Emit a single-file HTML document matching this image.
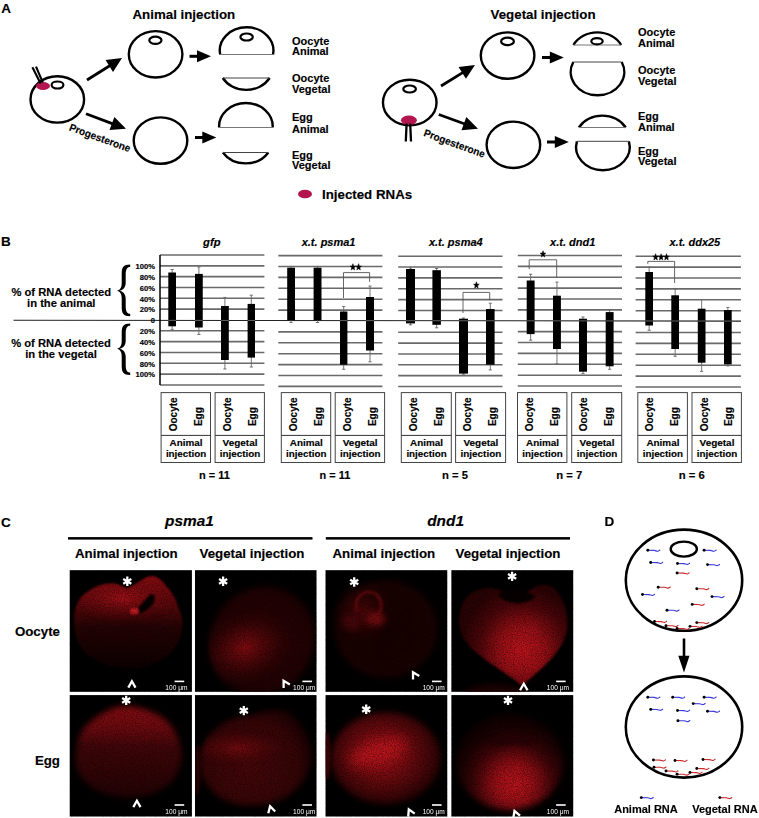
<!DOCTYPE html><html><head><meta charset="utf-8"><style>html,body{margin:0;padding:0;background:#fff;}svg{display:block;}</style></head><body>
<svg width="759" height="818" viewBox="0 0 759 818" font-family='"Liberation Sans", sans-serif'>
<rect width="759" height="818" fill="#fff"/>
<defs>
<filter id="bl3" color-interpolation-filters="sRGB" filterUnits="userSpaceOnUse" x="0" y="480" width="759" height="338"><feGaussianBlur color-interpolation-filters="sRGB" stdDeviation="3"/></filter>
<filter id="bl6" color-interpolation-filters="sRGB" filterUnits="userSpaceOnUse" x="0" y="480" width="759" height="338"><feGaussianBlur color-interpolation-filters="sRGB" stdDeviation="6"/></filter>
<filter id="bl10" color-interpolation-filters="sRGB" filterUnits="userSpaceOnUse" x="0" y="480" width="759" height="338"><feGaussianBlur color-interpolation-filters="sRGB" stdDeviation="10"/></filter>
<filter id="bl1" color-interpolation-filters="sRGB" filterUnits="userSpaceOnUse" x="0" y="480" width="759" height="338"><feGaussianBlur color-interpolation-filters="sRGB" stdDeviation="1.2"/></filter>
<filter id="spk" x="0" y="0" width="100%" height="100%" color-interpolation-filters="sRGB"><feTurbulence type="fractalNoise" baseFrequency="1.1" numOctaves="1" seed="7" result="n"/><feColorMatrix in="n" type="matrix" values="0 0 0 0 0  0 0 0 0 0  0 0 0 0 0  0 0 0 -2.2 1.35" result="a"/><feComposite in="SourceGraphic" in2="a" operator="in"/></filter>
<clipPath id="cp0"><rect x="69.75" y="570.2" width="122.15" height="121.6"/></clipPath>
<clipPath id="cp1"><rect x="195.0" y="570.2" width="121.5" height="121.6"/></clipPath>
<clipPath id="cp2"><rect x="325.55" y="570.2" width="121.7" height="121.6"/></clipPath>
<clipPath id="cp3"><rect x="451.4" y="570.2" width="121.8" height="121.6"/></clipPath>
<clipPath id="cp4"><rect x="69.75" y="695.1" width="122.15" height="121.4"/></clipPath>
<clipPath id="cp5"><rect x="195.0" y="695.1" width="121.5" height="121.4"/></clipPath>
<clipPath id="cp6"><rect x="325.55" y="695.1" width="121.7" height="121.4"/></clipPath>
<clipPath id="cp7"><rect x="451.4" y="695.1" width="121.8" height="121.4"/></clipPath>
</defs>
<text x="1.20" y="12.90" font-size="13.5" font-weight="bold"  text-anchor="start" fill="#000" stroke="#000" stroke-width="0.15" >A</text>
<text x="132.50" y="18.80" font-size="13.3" font-weight="bold"  text-anchor="start" fill="#000" stroke="#000" stroke-width="0.15" >Animal injection</text>
<text x="490.60" y="19.00" font-size="13.3" font-weight="bold"  text-anchor="start" fill="#000" stroke="#000" stroke-width="0.15" >Vegetal injection</text>
<ellipse cx="57.3" cy="99.4" rx="26.8" ry="23.2" fill="none" stroke="#000" stroke-width="2.4"/>
<ellipse cx="43" cy="86" rx="7" ry="4" fill="#b3164f"/>
<ellipse cx="57.5" cy="85" rx="5.90" ry="3.50" fill="#fff" stroke="#000" stroke-width="2.2"/>
<line x1="32.4" y1="67.2" x2="40.6" y2="83.5" stroke="#000" stroke-width="2.1"/>
<line x1="36.0" y1="66.6" x2="42.8" y2="82.5" stroke="#000" stroke-width="2.1"/>
<line x1="87" y1="80" x2="110.15" y2="65.45" stroke="#000" stroke-width="2.8"/>
<path d="M122,58 L113.03,71.91 L105.58,60.06 Z" fill="#000"/>
<line x1="86" y1="113.8" x2="112.89" y2="123.88" stroke="#000" stroke-width="2.8"/>
<path d="M126,128.8 L109.50,130.09 L114.41,116.98 Z" fill="#000"/>
<ellipse cx="155.6" cy="54.3" rx="26.8" ry="23.2" fill="none" stroke="#000" stroke-width="2.4"/>
<ellipse cx="155.4" cy="40.3" rx="6.10" ry="3.60" fill="#fff" stroke="#000" stroke-width="2.2"/>
<ellipse cx="160.5" cy="140.6" rx="26.8" ry="23.2" fill="none" stroke="#000" stroke-width="2.4"/>
<line x1="189.5" y1="56.3" x2="198.00" y2="56.30" stroke="#000" stroke-width="3"/>
<path d="M211,56.3 L197.00,62.30 L197.00,50.30 Z" fill="#000"/>
<line x1="195" y1="137.5" x2="203.30" y2="137.50" stroke="#000" stroke-width="3"/>
<path d="M216.3,137.5 L202.30,143.50 L202.30,131.50 Z" fill="#000"/>
<path d="M220.20,54.50 A26.8,23.2 0 1 1 273.00,54.50" fill="none" stroke="#000" stroke-width="2.4"/>
<line x1="220.20" y1="54.50" x2="273.00" y2="54.50" stroke="#777" stroke-width="1"/>
<ellipse cx="246.6" cy="37" rx="6.20" ry="3.50" fill="#fff" stroke="#000" stroke-width="2.2"/>
<path d="M269.61,78.00 A26.8,23.2 0 0 1 222.79,78.00" fill="none" stroke="#000" stroke-width="2.4"/>
<line x1="222.79" y1="78.00" x2="269.61" y2="78.00" stroke="#444" stroke-width="1"/>
<path d="M219.14,127.50 A26.8,23.2 0 1 1 272.66,127.50" fill="none" stroke="#000" stroke-width="2.4"/>
<line x1="219.14" y1="127.50" x2="272.66" y2="127.50" stroke="#777" stroke-width="1"/>
<path d="M268.32,152.50 A26.8,23.2 0 0 1 222.88,152.50" fill="none" stroke="#000" stroke-width="2.4"/>
<line x1="222.88" y1="152.50" x2="268.32" y2="152.50" stroke="#444" stroke-width="1"/>
<text x="0" y="0" font-size="10.4" font-weight="bold" stroke="#000" stroke-width="0.15" textLength="64.5" lengthAdjust="spacingAndGlyphs" transform="translate(68.4,130.2) rotate(20)">Progesterone</text>
<text x="292.00" y="44.90" font-size="11" font-weight="bold"  text-anchor="start" fill="#000" stroke="#000" stroke-width="0.15" >Oocyte</text>
<text x="292.00" y="55.40" font-size="11" font-weight="bold"  text-anchor="start" fill="#000" stroke="#000" stroke-width="0.15" >Animal</text>
<text x="292.00" y="82.40" font-size="11" font-weight="bold"  text-anchor="start" fill="#000" stroke="#000" stroke-width="0.15" >Oocyte</text>
<text x="292.00" y="92.90" font-size="11" font-weight="bold"  text-anchor="start" fill="#000" stroke="#000" stroke-width="0.15" >Vegetal</text>
<text x="292.00" y="121.30" font-size="11" font-weight="bold"  text-anchor="start" fill="#000" stroke="#000" stroke-width="0.15" >Egg</text>
<text x="292.00" y="132.50" font-size="11" font-weight="bold"  text-anchor="start" fill="#000" stroke="#000" stroke-width="0.15" >Animal</text>
<text x="292.00" y="158.70" font-size="11" font-weight="bold"  text-anchor="start" fill="#000" stroke="#000" stroke-width="0.15" >Egg</text>
<text x="292.00" y="169.00" font-size="11" font-weight="bold"  text-anchor="start" fill="#000" stroke="#000" stroke-width="0.15" >Vegetal</text>
<ellipse cx="305" cy="194" rx="7" ry="4.3" fill="#b3164f"/>
<text x="322.00" y="198.50" font-size="13.3" font-weight="bold"  text-anchor="start" fill="#000" stroke="#000" stroke-width="0.15" >Injected RNAs</text>
<ellipse cx="409.75" cy="102.5" rx="26.8" ry="22.8" fill="none" stroke="#000" stroke-width="2.4"/>
<ellipse cx="409.6" cy="89" rx="6.30" ry="3.50" fill="#fff" stroke="#000" stroke-width="2.2"/>
<ellipse cx="408.9" cy="120.3" rx="8" ry="4.8" fill="#b3164f"/>
<path d="M406.6,123.5 L405.8,141.5 M410.2,123.5 L411.0,141.5" stroke="#000" stroke-width="2.3" fill="none"/>
<line x1="441" y1="86" x2="463.09" y2="72.36" stroke="#000" stroke-width="2.8"/>
<path d="M475,65 L465.92,78.84 L458.56,66.93 Z" fill="#000"/>
<line x1="438.8" y1="114.5" x2="464.85" y2="124.00" stroke="#000" stroke-width="2.8"/>
<path d="M478,128.8 L461.51,130.24 L466.31,117.08 Z" fill="#000"/>
<ellipse cx="507.6" cy="55.6" rx="26.8" ry="23.2" fill="none" stroke="#000" stroke-width="2.4"/>
<ellipse cx="507.5" cy="41.4" rx="6.40" ry="3.70" fill="#fff" stroke="#000" stroke-width="2.2"/>
<ellipse cx="513.4" cy="144.8" rx="26.8" ry="23.2" fill="none" stroke="#000" stroke-width="2.4"/>
<line x1="542" y1="57.5" x2="550.80" y2="57.50" stroke="#000" stroke-width="3"/>
<path d="M563.8,57.5 L549.80,63.50 L549.80,51.50 Z" fill="#000"/>
<line x1="547" y1="142" x2="555.80" y2="142.00" stroke="#000" stroke-width="3"/>
<path d="M568.8,142 L554.80,148.00 L554.80,136.00 Z" fill="#000"/>
<path d="M573.46,45.00 A26.8,23.2 0 0 1 621.14,45.00" fill="none" stroke="#000" stroke-width="2.4"/>
<line x1="573.46" y1="45.00" x2="621.14" y2="45.00" stroke="#777" stroke-width="1"/>
<ellipse cx="597" cy="41.2" rx="5.70" ry="3.10" fill="#fff" stroke="#000" stroke-width="2.2"/>
<path d="M621.68,62.00 A26.8,23.2 0 1 1 573.32,62.00" fill="none" stroke="#000" stroke-width="2.4"/>
<line x1="573.32" y1="62.00" x2="621.68" y2="62.00" stroke="#444" stroke-width="1"/>
<path d="M578.89,127.50 A26.8,23.2 0 0 1 625.71,127.50" fill="none" stroke="#000" stroke-width="2.4"/>
<line x1="578.89" y1="127.50" x2="625.71" y2="127.50" stroke="#777" stroke-width="1"/>
<path d="M628.88,141.30 A26.8,23.2 0 1 1 576.92,141.30" fill="none" stroke="#000" stroke-width="2.4"/>
<line x1="576.92" y1="141.30" x2="628.88" y2="141.30" stroke="#444" stroke-width="1"/>
<text x="0" y="0" font-size="10.4" font-weight="bold" stroke="#000" stroke-width="0.15" textLength="64.5" lengthAdjust="spacingAndGlyphs" transform="translate(422.9,135.8) rotate(20)">Progesterone</text>
<text x="638.00" y="35.80" font-size="11" font-weight="bold"  text-anchor="start" fill="#000" stroke="#000" stroke-width="0.15" >Oocyte</text>
<text x="638.00" y="46.80" font-size="11" font-weight="bold"  text-anchor="start" fill="#000" stroke="#000" stroke-width="0.15" >Animal</text>
<text x="638.00" y="73.80" font-size="11" font-weight="bold"  text-anchor="start" fill="#000" stroke="#000" stroke-width="0.15" >Oocyte</text>
<text x="638.00" y="85.00" font-size="11" font-weight="bold"  text-anchor="start" fill="#000" stroke="#000" stroke-width="0.15" >Vegetal</text>
<text x="638.00" y="120.00" font-size="11" font-weight="bold"  text-anchor="start" fill="#000" stroke="#000" stroke-width="0.15" >Egg</text>
<text x="638.00" y="130.80" font-size="11" font-weight="bold"  text-anchor="start" fill="#000" stroke="#000" stroke-width="0.15" >Animal</text>
<text x="638.00" y="154.50" font-size="11" font-weight="bold"  text-anchor="start" fill="#000" stroke="#000" stroke-width="0.15" >Egg</text>
<text x="638.00" y="164.50" font-size="11" font-weight="bold"  text-anchor="start" fill="#000" stroke="#000" stroke-width="0.15" >Vegetal</text>
<text x="0.90" y="246.20" font-size="13.5" font-weight="bold"  text-anchor="start" fill="#000" stroke="#000" stroke-width="0.15" >B</text>
<line x1="13.5" y1="320.2" x2="741" y2="321.1" stroke="#222" stroke-width="1.1"/>
<line x1="160" y1="255.00" x2="264.4" y2="255.00" stroke="#6a6a6a" stroke-width="1.6"/>
<line x1="160" y1="265.83" x2="264.4" y2="265.83" stroke="#6a6a6a" stroke-width="1.6"/>
<line x1="160" y1="276.66" x2="264.4" y2="276.66" stroke="#6a6a6a" stroke-width="1.6"/>
<line x1="160" y1="287.49" x2="264.4" y2="287.49" stroke="#6a6a6a" stroke-width="1.6"/>
<line x1="160" y1="298.32" x2="264.4" y2="298.32" stroke="#6a6a6a" stroke-width="1.6"/>
<line x1="160" y1="309.15" x2="264.4" y2="309.15" stroke="#6a6a6a" stroke-width="1.6"/>
<line x1="160" y1="330.81" x2="264.4" y2="330.81" stroke="#6a6a6a" stroke-width="1.6"/>
<line x1="160" y1="341.64" x2="264.4" y2="341.64" stroke="#6a6a6a" stroke-width="1.6"/>
<line x1="160" y1="352.47" x2="264.4" y2="352.47" stroke="#6a6a6a" stroke-width="1.6"/>
<line x1="160" y1="363.30" x2="264.4" y2="363.30" stroke="#6a6a6a" stroke-width="1.6"/>
<line x1="160" y1="374.13" x2="264.4" y2="374.13" stroke="#6a6a6a" stroke-width="1.6"/>
<line x1="160" y1="384.96" x2="264.4" y2="384.96" stroke="#6a6a6a" stroke-width="1.6"/>
<text x="203.10" y="245.60" font-size="11.2" font-weight="bold" font-style="italic" text-anchor="start" fill="#000" stroke="#000" stroke-width="0.15" >gfp</text>
<line x1="172.15" y1="269.5" x2="172.15" y2="329.7" stroke="#666" stroke-width="0.9"/>
<line x1="170.55" y1="269.5" x2="173.75" y2="269.5" stroke="#666" stroke-width="0.9"/>
<line x1="170.55" y1="329.7" x2="173.75" y2="329.7" stroke="#666" stroke-width="0.9"/>
<rect x="168.3" y="272.5" width="7.70" height="53.80" fill="#000"/>
<line x1="168.3" y1="320.39" x2="176" y2="320.39" stroke="#6a6a6a" stroke-width="0.9"/>
<line x1="198.88" y1="267" x2="198.88" y2="334.5" stroke="#666" stroke-width="0.9"/>
<line x1="197.28" y1="267" x2="200.47" y2="267" stroke="#666" stroke-width="0.9"/>
<line x1="197.28" y1="334.5" x2="200.47" y2="334.5" stroke="#666" stroke-width="0.9"/>
<rect x="195" y="273.9" width="7.75" height="53.60" fill="#000"/>
<line x1="195" y1="320.42" x2="202.75" y2="320.42" stroke="#6a6a6a" stroke-width="0.9"/>
<line x1="224.90" y1="297.4" x2="224.90" y2="369" stroke="#666" stroke-width="0.9"/>
<line x1="223.30" y1="297.4" x2="226.50" y2="297.4" stroke="#666" stroke-width="0.9"/>
<line x1="223.30" y1="369" x2="226.50" y2="369" stroke="#666" stroke-width="0.9"/>
<rect x="221" y="306" width="7.80" height="54.00" fill="#000"/>
<line x1="221" y1="320.46" x2="228.8" y2="320.46" stroke="#6a6a6a" stroke-width="0.9"/>
<line x1="251.30" y1="295.2" x2="251.30" y2="367" stroke="#666" stroke-width="0.9"/>
<line x1="249.70" y1="295.2" x2="252.90" y2="295.2" stroke="#666" stroke-width="0.9"/>
<line x1="249.70" y1="367" x2="252.90" y2="367" stroke="#666" stroke-width="0.9"/>
<rect x="247.6" y="303.9" width="7.40" height="53.70" fill="#000"/>
<line x1="247.6" y1="320.49" x2="255" y2="320.49" stroke="#6a6a6a" stroke-width="0.9"/>
<rect x="161.1" y="392.6" width="49.40" height="69.9" fill="none" stroke="#444" stroke-width="1"/>
<line x1="161.1" y1="435.4" x2="210.5" y2="435.4" stroke="#333" stroke-width="1"/>
<text x="176.70" y="414.30" font-size="10" font-weight="bold"  text-anchor="middle" fill="#000" stroke="#000" stroke-width="0.15" transform="rotate(-90 176.70 414.3)">Oocyte</text>
<text x="201.60" y="416.60" font-size="10" font-weight="bold"  text-anchor="middle" fill="#000" stroke="#000" stroke-width="0.15" transform="rotate(-90 201.60 416.6)">Egg</text>
<rect x="215.1" y="392.6" width="49.30" height="69.9" fill="none" stroke="#444" stroke-width="1"/>
<line x1="215.1" y1="435.4" x2="264.4" y2="435.4" stroke="#333" stroke-width="1"/>
<text x="230.70" y="414.30" font-size="10" font-weight="bold"  text-anchor="middle" fill="#000" stroke="#000" stroke-width="0.15" transform="rotate(-90 230.70 414.3)">Oocyte</text>
<text x="255.60" y="416.60" font-size="10" font-weight="bold"  text-anchor="middle" fill="#000" stroke="#000" stroke-width="0.15" transform="rotate(-90 255.60 416.6)">Egg</text>
<text x="186.10" y="446.40" font-size="9.4" font-weight="bold"  text-anchor="middle" fill="#000" stroke="#000" stroke-width="0.15" textLength="33" lengthAdjust="spacingAndGlyphs">Animal</text>
<text x="186.10" y="456.90" font-size="9.4" font-weight="bold"  text-anchor="middle" fill="#000" stroke="#000" stroke-width="0.15" textLength="40.4" lengthAdjust="spacingAndGlyphs">injection</text>
<text x="240.05" y="446.40" font-size="9.4" font-weight="bold"  text-anchor="middle" fill="#000" stroke="#000" stroke-width="0.15" textLength="34.9" lengthAdjust="spacingAndGlyphs">Vegetal</text>
<text x="240.05" y="456.90" font-size="9.4" font-weight="bold"  text-anchor="middle" fill="#000" stroke="#000" stroke-width="0.15" textLength="40.6" lengthAdjust="spacingAndGlyphs">injection</text>
<text x="199.00" y="478.50" font-size="11" font-weight="bold"  text-anchor="start" fill="#000" stroke="#000" stroke-width="0.15" textLength="30.9" lengthAdjust="spacingAndGlyphs">n = 11</text>
<line x1="278.3" y1="255.60" x2="382.4" y2="255.60" stroke="#6a6a6a" stroke-width="1.6"/>
<line x1="278.3" y1="266.50" x2="382.4" y2="266.50" stroke="#6a6a6a" stroke-width="1.6"/>
<line x1="278.3" y1="277.40" x2="382.4" y2="277.40" stroke="#6a6a6a" stroke-width="1.6"/>
<line x1="278.3" y1="288.30" x2="382.4" y2="288.30" stroke="#6a6a6a" stroke-width="1.6"/>
<line x1="278.3" y1="299.20" x2="382.4" y2="299.20" stroke="#6a6a6a" stroke-width="1.6"/>
<line x1="278.3" y1="310.10" x2="382.4" y2="310.10" stroke="#6a6a6a" stroke-width="1.6"/>
<line x1="278.3" y1="331.90" x2="382.4" y2="331.90" stroke="#6a6a6a" stroke-width="1.6"/>
<line x1="278.3" y1="342.80" x2="382.4" y2="342.80" stroke="#6a6a6a" stroke-width="1.6"/>
<line x1="278.3" y1="353.70" x2="382.4" y2="353.70" stroke="#6a6a6a" stroke-width="1.6"/>
<line x1="278.3" y1="364.60" x2="382.4" y2="364.60" stroke="#6a6a6a" stroke-width="1.6"/>
<line x1="278.3" y1="375.50" x2="382.4" y2="375.50" stroke="#6a6a6a" stroke-width="1.6"/>
<line x1="278.3" y1="386.40" x2="382.4" y2="386.40" stroke="#6a6a6a" stroke-width="1.6"/>
<text x="301.70" y="245.60" font-size="11" font-weight="bold" font-style="italic" text-anchor="start" fill="#000" stroke="#000" stroke-width="0.15" >x.t. psma1</text>
<line x1="291.10" y1="266.5" x2="291.10" y2="322.5" stroke="#666" stroke-width="0.9"/>
<line x1="289.50" y1="266.5" x2="292.70" y2="266.5" stroke="#666" stroke-width="0.9"/>
<line x1="289.50" y1="322.5" x2="292.70" y2="322.5" stroke="#666" stroke-width="0.9"/>
<rect x="287.2" y="267.7" width="7.80" height="52.60" fill="#000"/>
<line x1="317.55" y1="266.5" x2="317.55" y2="322.5" stroke="#666" stroke-width="0.9"/>
<line x1="315.95" y1="266.5" x2="319.15" y2="266.5" stroke="#666" stroke-width="0.9"/>
<line x1="315.95" y1="322.5" x2="319.15" y2="322.5" stroke="#666" stroke-width="0.9"/>
<rect x="313.6" y="267.7" width="7.90" height="52.60" fill="#000"/>
<line x1="343.70" y1="306.6" x2="343.70" y2="369.3" stroke="#666" stroke-width="0.9"/>
<line x1="342.10" y1="306.6" x2="345.30" y2="306.6" stroke="#666" stroke-width="0.9"/>
<line x1="342.10" y1="369.3" x2="345.30" y2="369.3" stroke="#666" stroke-width="0.9"/>
<rect x="340" y="311.5" width="7.40" height="53.20" fill="#000"/>
<line x1="340" y1="320.60" x2="347.4" y2="320.60" stroke="#6a6a6a" stroke-width="0.9"/>
<line x1="370.00" y1="286" x2="370.00" y2="361.8" stroke="#666" stroke-width="0.9"/>
<line x1="368.40" y1="286" x2="371.60" y2="286" stroke="#666" stroke-width="0.9"/>
<line x1="368.40" y1="361.8" x2="371.60" y2="361.8" stroke="#666" stroke-width="0.9"/>
<rect x="366" y="297" width="8.00" height="53.50" fill="#000"/>
<line x1="366" y1="320.64" x2="374" y2="320.64" stroke="#6a6a6a" stroke-width="0.9"/>
<path d="M343.5,298 L343.5,272.6 L369.6,272.6 L369.6,281.9" fill="none" stroke="#555" stroke-width="0.9"/>
<polygon points="352.90,263.70 353.65,265.99 355.73,266.12 354.11,267.66 354.65,270.03 352.90,268.70 351.15,270.03 351.69,267.66 350.07,266.12 352.15,265.99" fill="#000" stroke="#000" stroke-width="0.5" stroke-linejoin="round"/>
<polygon points="358.60,263.70 359.35,265.99 361.43,266.12 359.81,267.66 360.35,270.03 358.60,268.70 356.85,270.03 357.39,267.66 355.77,266.12 357.85,265.99" fill="#000" stroke="#000" stroke-width="0.5" stroke-linejoin="round"/>
<rect x="281.3" y="392.6" width="49.40" height="69.9" fill="none" stroke="#444" stroke-width="1"/>
<line x1="281.3" y1="435.4" x2="330.7" y2="435.4" stroke="#333" stroke-width="1"/>
<text x="296.90" y="414.30" font-size="10" font-weight="bold"  text-anchor="middle" fill="#000" stroke="#000" stroke-width="0.15" transform="rotate(-90 296.90 414.3)">Oocyte</text>
<text x="321.80" y="416.60" font-size="10" font-weight="bold"  text-anchor="middle" fill="#000" stroke="#000" stroke-width="0.15" transform="rotate(-90 321.80 416.6)">Egg</text>
<rect x="335.2" y="392.6" width="49.40" height="69.9" fill="none" stroke="#444" stroke-width="1"/>
<line x1="335.2" y1="435.4" x2="384.6" y2="435.4" stroke="#333" stroke-width="1"/>
<text x="350.80" y="414.30" font-size="10" font-weight="bold"  text-anchor="middle" fill="#000" stroke="#000" stroke-width="0.15" transform="rotate(-90 350.80 414.3)">Oocyte</text>
<text x="375.70" y="416.60" font-size="10" font-weight="bold"  text-anchor="middle" fill="#000" stroke="#000" stroke-width="0.15" transform="rotate(-90 375.70 416.6)">Egg</text>
<text x="306.30" y="446.40" font-size="9.4" font-weight="bold"  text-anchor="middle" fill="#000" stroke="#000" stroke-width="0.15" textLength="33" lengthAdjust="spacingAndGlyphs">Animal</text>
<text x="306.30" y="456.90" font-size="9.4" font-weight="bold"  text-anchor="middle" fill="#000" stroke="#000" stroke-width="0.15" textLength="40.4" lengthAdjust="spacingAndGlyphs">injection</text>
<text x="360.20" y="446.40" font-size="9.4" font-weight="bold"  text-anchor="middle" fill="#000" stroke="#000" stroke-width="0.15" textLength="34.9" lengthAdjust="spacingAndGlyphs">Vegetal</text>
<text x="360.20" y="456.90" font-size="9.4" font-weight="bold"  text-anchor="middle" fill="#000" stroke="#000" stroke-width="0.15" textLength="40.6" lengthAdjust="spacingAndGlyphs">injection</text>
<text x="319.60" y="478.50" font-size="11" font-weight="bold"  text-anchor="start" fill="#000" stroke="#000" stroke-width="0.15" textLength="30.6" lengthAdjust="spacingAndGlyphs">n = 11</text>
<line x1="398.2" y1="256.20" x2="502.5" y2="256.20" stroke="#6a6a6a" stroke-width="1.6"/>
<line x1="398.2" y1="267.06" x2="502.5" y2="267.06" stroke="#6a6a6a" stroke-width="1.6"/>
<line x1="398.2" y1="277.92" x2="502.5" y2="277.92" stroke="#6a6a6a" stroke-width="1.6"/>
<line x1="398.2" y1="288.78" x2="502.5" y2="288.78" stroke="#6a6a6a" stroke-width="1.6"/>
<line x1="398.2" y1="299.64" x2="502.5" y2="299.64" stroke="#6a6a6a" stroke-width="1.6"/>
<line x1="398.2" y1="310.50" x2="502.5" y2="310.50" stroke="#6a6a6a" stroke-width="1.6"/>
<line x1="398.2" y1="332.22" x2="502.5" y2="332.22" stroke="#6a6a6a" stroke-width="1.6"/>
<line x1="398.2" y1="343.08" x2="502.5" y2="343.08" stroke="#6a6a6a" stroke-width="1.6"/>
<line x1="398.2" y1="353.94" x2="502.5" y2="353.94" stroke="#6a6a6a" stroke-width="1.6"/>
<line x1="398.2" y1="364.80" x2="502.5" y2="364.80" stroke="#6a6a6a" stroke-width="1.6"/>
<line x1="398.2" y1="375.66" x2="502.5" y2="375.66" stroke="#6a6a6a" stroke-width="1.6"/>
<line x1="398.2" y1="386.52" x2="502.5" y2="386.52" stroke="#6a6a6a" stroke-width="1.6"/>
<text x="428.90" y="245.60" font-size="11" font-weight="bold" font-style="italic" text-anchor="start" fill="#000" stroke="#000" stroke-width="0.15" >x.t. psma4</text>
<line x1="410.50" y1="268" x2="410.50" y2="324.8" stroke="#666" stroke-width="0.9"/>
<line x1="408.90" y1="268" x2="412.10" y2="268" stroke="#666" stroke-width="0.9"/>
<line x1="408.90" y1="324.8" x2="412.10" y2="324.8" stroke="#666" stroke-width="0.9"/>
<rect x="406" y="269" width="9.00" height="54.40" fill="#000"/>
<line x1="406" y1="320.69" x2="415" y2="320.69" stroke="#6a6a6a" stroke-width="0.9"/>
<line x1="436.65" y1="268.5" x2="436.65" y2="327.8" stroke="#666" stroke-width="0.9"/>
<line x1="435.05" y1="268.5" x2="438.25" y2="268.5" stroke="#666" stroke-width="0.9"/>
<line x1="435.05" y1="327.8" x2="438.25" y2="327.8" stroke="#666" stroke-width="0.9"/>
<rect x="432.4" y="270.2" width="8.50" height="54.60" fill="#000"/>
<line x1="432.4" y1="320.72" x2="440.9" y2="320.72" stroke="#6a6a6a" stroke-width="0.9"/>
<line x1="463.50" y1="318" x2="463.50" y2="374.2" stroke="#666" stroke-width="0.9"/>
<line x1="461.90" y1="318" x2="465.10" y2="318" stroke="#666" stroke-width="0.9"/>
<line x1="461.90" y1="374.2" x2="465.10" y2="374.2" stroke="#666" stroke-width="0.9"/>
<rect x="459" y="318.7" width="9.00" height="54.90" fill="#000"/>
<line x1="459" y1="320.75" x2="468" y2="320.75" stroke="#6a6a6a" stroke-width="0.9"/>
<line x1="490.30" y1="303.2" x2="490.30" y2="369.9" stroke="#666" stroke-width="0.9"/>
<line x1="488.70" y1="303.2" x2="491.90" y2="303.2" stroke="#666" stroke-width="0.9"/>
<line x1="488.70" y1="369.9" x2="491.90" y2="369.9" stroke="#666" stroke-width="0.9"/>
<rect x="486" y="309" width="8.60" height="55.70" fill="#000"/>
<line x1="486" y1="320.78" x2="494.6" y2="320.78" stroke="#6a6a6a" stroke-width="0.9"/>
<path d="M463,313 L463,292.4 L489.7,292.4 L489.7,300.3" fill="none" stroke="#555" stroke-width="0.9"/>
<polygon points="476.40,281.80 477.15,284.09 479.23,284.22 477.61,285.76 478.15,288.13 476.40,286.80 474.65,288.13 475.19,285.76 473.57,284.22 475.65,284.09" fill="#000" stroke="#000" stroke-width="0.5" stroke-linejoin="round"/>
<rect x="401.3" y="392.6" width="50.00" height="69.9" fill="none" stroke="#444" stroke-width="1"/>
<line x1="401.3" y1="435.4" x2="451.3" y2="435.4" stroke="#333" stroke-width="1"/>
<text x="416.90" y="414.30" font-size="10" font-weight="bold"  text-anchor="middle" fill="#000" stroke="#000" stroke-width="0.15" transform="rotate(-90 416.90 414.3)">Oocyte</text>
<text x="441.80" y="416.60" font-size="10" font-weight="bold"  text-anchor="middle" fill="#000" stroke="#000" stroke-width="0.15" transform="rotate(-90 441.80 416.6)">Egg</text>
<rect x="455.6" y="392.6" width="50.00" height="69.9" fill="none" stroke="#444" stroke-width="1"/>
<line x1="455.6" y1="435.4" x2="505.6" y2="435.4" stroke="#333" stroke-width="1"/>
<text x="471.20" y="414.30" font-size="10" font-weight="bold"  text-anchor="middle" fill="#000" stroke="#000" stroke-width="0.15" transform="rotate(-90 471.20 414.3)">Oocyte</text>
<text x="496.10" y="416.60" font-size="10" font-weight="bold"  text-anchor="middle" fill="#000" stroke="#000" stroke-width="0.15" transform="rotate(-90 496.10 416.6)">Egg</text>
<text x="426.60" y="446.40" font-size="9.4" font-weight="bold"  text-anchor="middle" fill="#000" stroke="#000" stroke-width="0.15" textLength="33" lengthAdjust="spacingAndGlyphs">Animal</text>
<text x="426.60" y="456.90" font-size="9.4" font-weight="bold"  text-anchor="middle" fill="#000" stroke="#000" stroke-width="0.15" textLength="40.4" lengthAdjust="spacingAndGlyphs">injection</text>
<text x="480.90" y="446.40" font-size="9.4" font-weight="bold"  text-anchor="middle" fill="#000" stroke="#000" stroke-width="0.15" textLength="34.9" lengthAdjust="spacingAndGlyphs">Vegetal</text>
<text x="480.90" y="456.90" font-size="9.4" font-weight="bold"  text-anchor="middle" fill="#000" stroke="#000" stroke-width="0.15" textLength="40.6" lengthAdjust="spacingAndGlyphs">injection</text>
<text x="442.00" y="478.50" font-size="11" font-weight="bold"  text-anchor="start" fill="#000" stroke="#000" stroke-width="0.15" textLength="25.9" lengthAdjust="spacingAndGlyphs">n = 5</text>
<line x1="517.8" y1="255.50" x2="622" y2="255.50" stroke="#6a6a6a" stroke-width="1.6"/>
<line x1="517.8" y1="266.38" x2="622" y2="266.38" stroke="#6a6a6a" stroke-width="1.6"/>
<line x1="517.8" y1="277.26" x2="622" y2="277.26" stroke="#6a6a6a" stroke-width="1.6"/>
<line x1="517.8" y1="288.14" x2="622" y2="288.14" stroke="#6a6a6a" stroke-width="1.6"/>
<line x1="517.8" y1="299.02" x2="622" y2="299.02" stroke="#6a6a6a" stroke-width="1.6"/>
<line x1="517.8" y1="309.90" x2="622" y2="309.90" stroke="#6a6a6a" stroke-width="1.6"/>
<line x1="517.8" y1="331.66" x2="622" y2="331.66" stroke="#6a6a6a" stroke-width="1.6"/>
<line x1="517.8" y1="342.54" x2="622" y2="342.54" stroke="#6a6a6a" stroke-width="1.6"/>
<line x1="517.8" y1="353.42" x2="622" y2="353.42" stroke="#6a6a6a" stroke-width="1.6"/>
<line x1="517.8" y1="364.30" x2="622" y2="364.30" stroke="#6a6a6a" stroke-width="1.6"/>
<line x1="517.8" y1="375.18" x2="622" y2="375.18" stroke="#6a6a6a" stroke-width="1.6"/>
<line x1="517.8" y1="386.06" x2="622" y2="386.06" stroke="#6a6a6a" stroke-width="1.6"/>
<text x="550.10" y="245.60" font-size="11" font-weight="bold" font-style="italic" text-anchor="start" fill="#000" stroke="#000" stroke-width="0.15" >x.t. dnd1</text>
<line x1="530.65" y1="274.2" x2="530.65" y2="340.2" stroke="#666" stroke-width="0.9"/>
<line x1="529.05" y1="274.2" x2="532.25" y2="274.2" stroke="#666" stroke-width="0.9"/>
<line x1="529.05" y1="340.2" x2="532.25" y2="340.2" stroke="#666" stroke-width="0.9"/>
<rect x="526.7" y="280.5" width="7.90" height="53.60" fill="#000"/>
<line x1="526.7" y1="320.83" x2="534.6" y2="320.83" stroke="#6a6a6a" stroke-width="0.9"/>
<line x1="556.95" y1="282.1" x2="556.95" y2="363.8" stroke="#666" stroke-width="0.9"/>
<line x1="555.35" y1="282.1" x2="558.55" y2="282.1" stroke="#666" stroke-width="0.9"/>
<line x1="555.35" y1="363.8" x2="558.55" y2="363.8" stroke="#666" stroke-width="0.9"/>
<rect x="553" y="295.7" width="7.90" height="53.30" fill="#000"/>
<line x1="553" y1="320.87" x2="560.9" y2="320.87" stroke="#6a6a6a" stroke-width="0.9"/>
<line x1="583.00" y1="317" x2="583.00" y2="373.6" stroke="#666" stroke-width="0.9"/>
<line x1="581.40" y1="317" x2="584.60" y2="317" stroke="#666" stroke-width="0.9"/>
<line x1="581.40" y1="373.6" x2="584.60" y2="373.6" stroke="#666" stroke-width="0.9"/>
<rect x="579" y="318.7" width="8.00" height="53.00" fill="#000"/>
<line x1="579" y1="320.90" x2="587" y2="320.90" stroke="#6a6a6a" stroke-width="0.9"/>
<line x1="609.65" y1="309.6" x2="609.65" y2="369.3" stroke="#666" stroke-width="0.9"/>
<line x1="608.05" y1="309.6" x2="611.25" y2="309.6" stroke="#666" stroke-width="0.9"/>
<line x1="608.05" y1="369.3" x2="611.25" y2="369.3" stroke="#666" stroke-width="0.9"/>
<rect x="605.7" y="312.1" width="7.90" height="54.20" fill="#000"/>
<line x1="605.7" y1="320.93" x2="613.6" y2="320.93" stroke="#6a6a6a" stroke-width="0.9"/>
<path d="M529.2,269.2 L529.2,259.8 L556.7,259.8 L556.7,277.2" fill="none" stroke="#555" stroke-width="0.9"/>
<polygon points="543.00,250.70 543.75,252.99 545.83,253.12 544.21,254.66 544.75,257.03 543.00,255.70 541.25,257.03 541.79,254.66 540.17,253.12 542.25,252.99" fill="#000" stroke="#000" stroke-width="0.5" stroke-linejoin="round"/>
<rect x="517.5" y="392.6" width="49.40" height="69.9" fill="none" stroke="#444" stroke-width="1"/>
<line x1="517.5" y1="435.4" x2="566.9" y2="435.4" stroke="#333" stroke-width="1"/>
<text x="533.10" y="414.30" font-size="10" font-weight="bold"  text-anchor="middle" fill="#000" stroke="#000" stroke-width="0.15" transform="rotate(-90 533.10 414.3)">Oocyte</text>
<text x="558.00" y="416.60" font-size="10" font-weight="bold"  text-anchor="middle" fill="#000" stroke="#000" stroke-width="0.15" transform="rotate(-90 558.00 416.6)">Egg</text>
<rect x="571.7" y="392.6" width="50.00" height="69.9" fill="none" stroke="#444" stroke-width="1"/>
<line x1="571.7" y1="435.4" x2="621.7" y2="435.4" stroke="#333" stroke-width="1"/>
<text x="587.30" y="414.30" font-size="10" font-weight="bold"  text-anchor="middle" fill="#000" stroke="#000" stroke-width="0.15" transform="rotate(-90 587.30 414.3)">Oocyte</text>
<text x="612.20" y="416.60" font-size="10" font-weight="bold"  text-anchor="middle" fill="#000" stroke="#000" stroke-width="0.15" transform="rotate(-90 612.20 416.6)">Egg</text>
<text x="542.50" y="446.40" font-size="9.4" font-weight="bold"  text-anchor="middle" fill="#000" stroke="#000" stroke-width="0.15" textLength="33" lengthAdjust="spacingAndGlyphs">Animal</text>
<text x="542.50" y="456.90" font-size="9.4" font-weight="bold"  text-anchor="middle" fill="#000" stroke="#000" stroke-width="0.15" textLength="40.4" lengthAdjust="spacingAndGlyphs">injection</text>
<text x="597.00" y="446.40" font-size="9.4" font-weight="bold"  text-anchor="middle" fill="#000" stroke="#000" stroke-width="0.15" textLength="34.9" lengthAdjust="spacingAndGlyphs">Vegetal</text>
<text x="597.00" y="456.90" font-size="9.4" font-weight="bold"  text-anchor="middle" fill="#000" stroke="#000" stroke-width="0.15" textLength="40.6" lengthAdjust="spacingAndGlyphs">injection</text>
<text x="556.30" y="478.50" font-size="11" font-weight="bold"  text-anchor="start" fill="#000" stroke="#000" stroke-width="0.15" textLength="25.9" lengthAdjust="spacingAndGlyphs">n = 7</text>
<line x1="635.6" y1="256.20" x2="740.9" y2="256.20" stroke="#6a6a6a" stroke-width="1.6"/>
<line x1="635.6" y1="267.10" x2="740.9" y2="267.10" stroke="#6a6a6a" stroke-width="1.6"/>
<line x1="635.6" y1="278.00" x2="740.9" y2="278.00" stroke="#6a6a6a" stroke-width="1.6"/>
<line x1="635.6" y1="288.90" x2="740.9" y2="288.90" stroke="#6a6a6a" stroke-width="1.6"/>
<line x1="635.6" y1="299.80" x2="740.9" y2="299.80" stroke="#6a6a6a" stroke-width="1.6"/>
<line x1="635.6" y1="310.70" x2="740.9" y2="310.70" stroke="#6a6a6a" stroke-width="1.6"/>
<line x1="635.6" y1="332.50" x2="740.9" y2="332.50" stroke="#6a6a6a" stroke-width="1.6"/>
<line x1="635.6" y1="343.40" x2="740.9" y2="343.40" stroke="#6a6a6a" stroke-width="1.6"/>
<line x1="635.6" y1="354.30" x2="740.9" y2="354.30" stroke="#6a6a6a" stroke-width="1.6"/>
<line x1="635.6" y1="365.20" x2="740.9" y2="365.20" stroke="#6a6a6a" stroke-width="1.6"/>
<line x1="635.6" y1="376.10" x2="740.9" y2="376.10" stroke="#6a6a6a" stroke-width="1.6"/>
<line x1="635.6" y1="387.00" x2="740.9" y2="387.00" stroke="#6a6a6a" stroke-width="1.6"/>
<text x="669.50" y="245.60" font-size="11" font-weight="bold" font-style="italic" text-anchor="start" fill="#000" stroke="#000" stroke-width="0.15" >x.t. ddx25</text>
<line x1="649.15" y1="267.1" x2="649.15" y2="330.3" stroke="#666" stroke-width="0.9"/>
<line x1="647.55" y1="267.1" x2="650.75" y2="267.1" stroke="#666" stroke-width="0.9"/>
<line x1="647.55" y1="330.3" x2="650.75" y2="330.3" stroke="#666" stroke-width="0.9"/>
<rect x="645.3" y="272" width="7.70" height="53.50" fill="#000"/>
<line x1="645.3" y1="320.98" x2="653" y2="320.98" stroke="#6a6a6a" stroke-width="0.9"/>
<line x1="675.15" y1="289" x2="675.15" y2="356.3" stroke="#666" stroke-width="0.9"/>
<line x1="673.55" y1="289" x2="676.75" y2="289" stroke="#666" stroke-width="0.9"/>
<line x1="673.55" y1="356.3" x2="676.75" y2="356.3" stroke="#666" stroke-width="0.9"/>
<rect x="671.3" y="295.3" width="7.70" height="53.70" fill="#000"/>
<line x1="671.3" y1="321.01" x2="679" y2="321.01" stroke="#6a6a6a" stroke-width="0.9"/>
<line x1="701.65" y1="299.5" x2="701.65" y2="371.4" stroke="#666" stroke-width="0.9"/>
<line x1="700.05" y1="299.5" x2="703.25" y2="299.5" stroke="#666" stroke-width="0.9"/>
<line x1="700.05" y1="371.4" x2="703.25" y2="371.4" stroke="#666" stroke-width="0.9"/>
<rect x="697.8" y="308.7" width="7.70" height="54.00" fill="#000"/>
<line x1="697.8" y1="321.05" x2="705.5" y2="321.05" stroke="#6a6a6a" stroke-width="0.9"/>
<line x1="727.85" y1="307.4" x2="727.85" y2="365.9" stroke="#666" stroke-width="0.9"/>
<line x1="726.25" y1="307.4" x2="729.45" y2="307.4" stroke="#666" stroke-width="0.9"/>
<line x1="726.25" y1="365.9" x2="729.45" y2="365.9" stroke="#666" stroke-width="0.9"/>
<rect x="724" y="310.1" width="7.70" height="54.30" fill="#000"/>
<line x1="724" y1="321.08" x2="731.7" y2="321.08" stroke="#6a6a6a" stroke-width="0.9"/>
<path d="M647.8,263.8 L647.8,261.4 L674.6,261.4 L674.6,283" fill="none" stroke="#555" stroke-width="0.9"/>
<polygon points="655.60,253.70 656.35,255.99 658.43,256.12 656.81,257.66 657.35,260.03 655.60,258.70 653.85,260.03 654.39,257.66 652.77,256.12 654.85,255.99" fill="#000" stroke="#000" stroke-width="0.5" stroke-linejoin="round"/>
<polygon points="661.10,253.70 661.85,255.99 663.93,256.12 662.31,257.66 662.85,260.03 661.10,258.70 659.35,260.03 659.89,257.66 658.27,256.12 660.35,255.99" fill="#000" stroke="#000" stroke-width="0.5" stroke-linejoin="round"/>
<polygon points="666.50,253.70 667.25,255.99 669.33,256.12 667.71,257.66 668.25,260.03 666.50,258.70 664.75,260.03 665.29,257.66 663.67,256.12 665.75,255.99" fill="#000" stroke="#000" stroke-width="0.5" stroke-linejoin="round"/>
<rect x="637.8" y="392.6" width="49.60" height="69.9" fill="none" stroke="#444" stroke-width="1"/>
<line x1="637.8" y1="435.4" x2="687.4" y2="435.4" stroke="#333" stroke-width="1"/>
<text x="653.40" y="414.30" font-size="10" font-weight="bold"  text-anchor="middle" fill="#000" stroke="#000" stroke-width="0.15" transform="rotate(-90 653.40 414.3)">Oocyte</text>
<text x="678.30" y="416.60" font-size="10" font-weight="bold"  text-anchor="middle" fill="#000" stroke="#000" stroke-width="0.15" transform="rotate(-90 678.30 416.6)">Egg</text>
<rect x="692" y="392.6" width="49.40" height="69.9" fill="none" stroke="#444" stroke-width="1"/>
<line x1="692" y1="435.4" x2="741.4" y2="435.4" stroke="#333" stroke-width="1"/>
<text x="707.60" y="414.30" font-size="10" font-weight="bold"  text-anchor="middle" fill="#000" stroke="#000" stroke-width="0.15" transform="rotate(-90 707.60 414.3)">Oocyte</text>
<text x="732.50" y="416.60" font-size="10" font-weight="bold"  text-anchor="middle" fill="#000" stroke="#000" stroke-width="0.15" transform="rotate(-90 732.50 416.6)">Egg</text>
<text x="662.90" y="446.40" font-size="9.4" font-weight="bold"  text-anchor="middle" fill="#000" stroke="#000" stroke-width="0.15" textLength="33" lengthAdjust="spacingAndGlyphs">Animal</text>
<text x="662.90" y="456.90" font-size="9.4" font-weight="bold"  text-anchor="middle" fill="#000" stroke="#000" stroke-width="0.15" textLength="40.4" lengthAdjust="spacingAndGlyphs">injection</text>
<text x="717.00" y="446.40" font-size="9.4" font-weight="bold"  text-anchor="middle" fill="#000" stroke="#000" stroke-width="0.15" textLength="34.9" lengthAdjust="spacingAndGlyphs">Vegetal</text>
<text x="717.00" y="456.90" font-size="9.4" font-weight="bold"  text-anchor="middle" fill="#000" stroke="#000" stroke-width="0.15" textLength="40.6" lengthAdjust="spacingAndGlyphs">injection</text>
<text x="678.70" y="478.50" font-size="11" font-weight="bold"  text-anchor="start" fill="#000" stroke="#000" stroke-width="0.15" textLength="26.1" lengthAdjust="spacingAndGlyphs">n = 6</text>
<line x1="160" y1="255.00" x2="160" y2="384.96" stroke="#000" stroke-width="1.5"/>
<text x="155.00" y="269.13" font-size="7.6" font-weight="bold"  text-anchor="end" fill="#000" stroke="#000" stroke-width="0.15" >100%</text>
<text x="155.00" y="279.96" font-size="7.6" font-weight="bold"  text-anchor="end" fill="#000" stroke="#000" stroke-width="0.15" >80%</text>
<text x="155.00" y="290.79" font-size="7.6" font-weight="bold"  text-anchor="end" fill="#000" stroke="#000" stroke-width="0.15" >60%</text>
<text x="155.00" y="301.62" font-size="7.6" font-weight="bold"  text-anchor="end" fill="#000" stroke="#000" stroke-width="0.15" >40%</text>
<text x="155.00" y="312.45" font-size="7.6" font-weight="bold"  text-anchor="end" fill="#000" stroke="#000" stroke-width="0.15" >20%</text>
<text x="155.00" y="323.28" font-size="7.6" font-weight="bold"  text-anchor="end" fill="#000" stroke="#000" stroke-width="0.15" >0</text>
<text x="155.00" y="334.11" font-size="7.6" font-weight="bold"  text-anchor="end" fill="#000" stroke="#000" stroke-width="0.15" >20%</text>
<text x="155.00" y="344.94" font-size="7.6" font-weight="bold"  text-anchor="end" fill="#000" stroke="#000" stroke-width="0.15" >40%</text>
<text x="155.00" y="355.77" font-size="7.6" font-weight="bold"  text-anchor="end" fill="#000" stroke="#000" stroke-width="0.15" >60%</text>
<text x="155.00" y="366.60" font-size="7.6" font-weight="bold"  text-anchor="end" fill="#000" stroke="#000" stroke-width="0.15" >80%</text>
<text x="155.00" y="377.43" font-size="7.6" font-weight="bold"  text-anchor="end" fill="#000" stroke="#000" stroke-width="0.15" >100%</text>
<text x="61.30" y="295.50" font-size="11.2" font-weight="bold"  text-anchor="middle" fill="#000" stroke="#000" stroke-width="0.15" >% of RNA detected</text>
<text x="61.30" y="306.80" font-size="11.2" font-weight="bold"  text-anchor="middle" fill="#000" stroke="#000" stroke-width="0.15" >in the animal</text>
<text x="61.00" y="347.00" font-size="11.2" font-weight="bold"  text-anchor="middle" fill="#000" stroke="#000" stroke-width="0.15" >% of RNA detected</text>
<text x="61.00" y="358.40" font-size="11.2" font-weight="bold"  text-anchor="middle" fill="#000" stroke="#000" stroke-width="0.15" >in the vegetal</text>
<path d="M130.2,264.5 C123.2,264.5 121.7,267.5 121.7,273.5 L121.7,282.8 C121.7,288.3 119.8,290.2 116.8,290.8 C119.8,291.40000000000003 121.7,293.3 121.7,298.8 L121.7,307.2 C121.7,313.2 123.2,316.2 130.2,316.2 L130.2,313.8 C127.7,313.8 125.7,312.2 125.7,306.2 L125.7,298.8 C125.7,293.8 122.8,291.2 119.39999999999999,290.8 C122.8,290.40000000000003 125.7,287.8 125.7,282.8 L125.7,274.5 C125.7,268.5 127.7,266.9 130.2,266.9 Z" fill="#000"/>
<path d="M130.2,323.4 C123.2,323.4 121.7,326.4 121.7,332.4 L121.7,340.8 C121.7,346.3 119.8,348.2 116.8,348.8 C119.8,349.40000000000003 121.7,351.3 121.7,356.8 L121.7,366 C121.7,372 123.2,375 130.2,375 L130.2,372.6 C127.7,372.6 125.7,371 125.7,365 L125.7,356.8 C125.7,351.8 122.8,349.2 119.39999999999999,348.8 C122.8,348.40000000000003 125.7,345.8 125.7,340.8 L125.7,333.4 C125.7,327.4 127.7,325.79999999999995 130.2,325.79999999999995 Z" fill="#000"/>
<text x="0.90" y="526.50" font-size="13.5" font-weight="bold"  text-anchor="start" fill="#000" stroke="#000" stroke-width="0.15" >C</text>
<text x="189.40" y="526.30" font-size="15.4" font-weight="bold" font-style="italic" text-anchor="middle" fill="#000" stroke="#000" stroke-width="0.15" >psma1</text>
<text x="445.60" y="525.50" font-size="15.4" font-weight="bold" font-style="italic" text-anchor="middle" fill="#000" stroke="#000" stroke-width="0.15" >dnd1</text>
<rect x="68" y="537.1" width="244.5" height="2.5" fill="#000"/>
<rect x="325.8" y="537.1" width="244.2" height="2.5" fill="#000"/>
<text x="75.00" y="557.50" font-size="13.3" font-weight="bold"  text-anchor="start" fill="#000" stroke="#000" stroke-width="0.15" >Animal injection</text>
<text x="199.50" y="557.50" font-size="13.3" font-weight="bold"  text-anchor="start" fill="#000" stroke="#000" stroke-width="0.15" >Vegetal injection</text>
<text x="332.50" y="557.50" font-size="13.3" font-weight="bold"  text-anchor="start" fill="#000" stroke="#000" stroke-width="0.15" >Animal injection</text>
<text x="455.50" y="557.50" font-size="13.3" font-weight="bold"  text-anchor="start" fill="#000" stroke="#000" stroke-width="0.15" >Vegetal injection</text>
<text x="60.00" y="636.40" font-size="13.3" font-weight="bold"  text-anchor="end" fill="#000" stroke="#000" stroke-width="0.15" >Oocyte</text>
<text x="60.00" y="764.60" font-size="13.3" font-weight="bold"  text-anchor="end" fill="#000" stroke="#000" stroke-width="0.15" >Egg</text>
<rect x="69.75" y="570.2" width="122.15" height="121.6" fill="#000"/>
<rect x="195.0" y="570.2" width="121.5" height="121.6" fill="#000"/>
<rect x="325.55" y="570.2" width="121.7" height="121.6" fill="#000"/>
<rect x="451.4" y="570.2" width="121.8" height="121.6" fill="#000"/>
<rect x="69.75" y="695.1" width="122.15" height="121.4" fill="#000"/>
<rect x="195.0" y="695.1" width="121.5" height="121.4" fill="#000"/>
<rect x="325.55" y="695.1" width="121.7" height="121.4" fill="#000"/>
<rect x="451.4" y="695.1" width="121.8" height="121.4" fill="#000"/>
<defs><linearGradient id="g1" gradientUnits="userSpaceOnUse" x1="0" y1="578" x2="0" y2="668"><stop offset="0" stop-color="#8e0d13" stop-opacity="1"/><stop offset="0.3" stop-color="#5a080b" stop-opacity="1"/><stop offset="0.55" stop-color="#260304" stop-opacity="1"/><stop offset="1" stop-color="#0e0101" stop-opacity="1"/></linearGradient><radialGradient id="g1b" gradientUnits="userSpaceOnUse" cx="122" cy="598" r="40" gradientTransform="translate(122 598) scale(1.4 0.6) translate(-122 -598)"><stop offset="0" stop-color="#a81219" stop-opacity="0.9"/><stop offset="0.5" stop-color="#800d12" stop-opacity="0.5"/><stop offset="1" stop-color="#60080b" stop-opacity="0"/></radialGradient><radialGradient id="g2" gradientUnits="userSpaceOnUse" cx="262" cy="641" r="58"><stop offset="0" stop-color="#2c0304" stop-opacity="1"/><stop offset="0.85" stop-color="#220203" stop-opacity="1"/><stop offset="1" stop-color="#100101" stop-opacity="1"/></radialGradient><radialGradient id="g2b" gradientUnits="userSpaceOnUse" cx="252" cy="656" r="50" gradientTransform="translate(252 656) rotate(35) scale(0.75 1.0) translate(-252 -656)"><stop offset="0" stop-color="#8a0c12" stop-opacity="0.95"/><stop offset="0.5" stop-color="#5a080b" stop-opacity="0.6"/><stop offset="1" stop-color="#300405" stop-opacity="0"/></radialGradient><linearGradient id="g3" gradientUnits="userSpaceOnUse" x1="0" y1="705" x2="0" y2="798"><stop offset="0" stop-color="#8a0d12" stop-opacity="1"/><stop offset="0.25" stop-color="#6e0a0f" stop-opacity="1"/><stop offset="0.45" stop-color="#420609" stop-opacity="1"/><stop offset="1" stop-color="#240304" stop-opacity="1"/></linearGradient><radialGradient id="g4" gradientUnits="userSpaceOnUse" cx="250" cy="765" r="60"><stop offset="0" stop-color="#480709" stop-opacity="1"/><stop offset="0.8" stop-color="#360507" stop-opacity="1"/><stop offset="1" stop-color="#220203" stop-opacity="1"/></radialGradient><radialGradient id="g4b" gradientUnits="userSpaceOnUse" cx="238" cy="748" r="40" gradientTransform="translate(238 748) scale(1.2 0.45) translate(-238 -748)"><stop offset="0" stop-color="#7a0b10" stop-opacity="0.95"/><stop offset="0.6" stop-color="#5a080b" stop-opacity="0.5"/><stop offset="1" stop-color="#4a070a" stop-opacity="0"/></radialGradient><radialGradient id="g5" gradientUnits="userSpaceOnUse" cx="386" cy="629" r="55"><stop offset="0" stop-color="#160101" stop-opacity="1"/><stop offset="0.9" stop-color="#1a0202" stop-opacity="1"/><stop offset="1" stop-color="#0c0101" stop-opacity="1"/></radialGradient><radialGradient id="g5b" gradientUnits="userSpaceOnUse" cx="362" cy="612" r="32"><stop offset="0" stop-color="#520709" stop-opacity="0.9"/><stop offset="1" stop-color="#300405" stop-opacity="0"/></radialGradient><radialGradient id="g6" gradientUnits="userSpaceOnUse" cx="522" cy="650" r="62" gradientTransform="translate(522 650) scale(1 1.05) translate(-522 -650)"><stop offset="0" stop-color="#c0141c" stop-opacity="1"/><stop offset="0.35" stop-color="#9a1016" stop-opacity="1"/><stop offset="0.7" stop-color="#4e060a" stop-opacity="1"/><stop offset="1" stop-color="#2a0304" stop-opacity="1"/></radialGradient><radialGradient id="g7" gradientUnits="userSpaceOnUse" cx="382" cy="754" r="62" gradientTransform="translate(382 754) scale(1 0.85) translate(-382 -754)"><stop offset="0" stop-color="#a41219" stop-opacity="1"/><stop offset="0.35" stop-color="#800d12" stop-opacity="1"/><stop offset="0.65" stop-color="#56080b" stop-opacity="1"/><stop offset="0.88" stop-color="#360406" stop-opacity="1"/><stop offset="1" stop-color="#240303" stop-opacity="1"/></radialGradient><radialGradient id="g8" gradientUnits="userSpaceOnUse" cx="514" cy="784" r="64" gradientTransform="translate(514 784) scale(1 1.0) translate(-514 -784)"><stop offset="0" stop-color="#c0151c" stop-opacity="1"/><stop offset="0.3" stop-color="#980f16" stop-opacity="1"/><stop offset="0.62" stop-color="#400508" stop-opacity="1"/><stop offset="0.85" stop-color="#1c0203" stop-opacity="1"/><stop offset="1" stop-color="#120101" stop-opacity="1"/></radialGradient></defs>
<g clip-path="url(#cp0)">
<path d="M74,623 C74,605 80,597 86,593 C95,586 105,583 113,583.5 C120,584 124,588 127,588.5 C135,586 143,577 151,576 C158,576 164,582 166,586 C172,592 177,600 178,607 C182,615 183,620 182.6,626 C181,650 160,668.7 129.5,668.7 C96,668.7 74,650 74,623 Z" fill="url(#g1)" filter="url(#bl1)"/>
<path d="M74,623 C74,605 80,597 86,593 C95,586 105,583 113,583.5 C120,584 124,588 127,588.5 C135,586 143,577 151,576 C158,576 164,582 166,586 C172,592 177,600 178,607 C182,615 183,620 182.6,626 C181,650 160,668.7 129.5,668.7 C96,668.7 74,650 74,623 Z" fill="url(#g1b)" filter="url(#bl1)"/>
<path d="M136,611 C140,606 146,598 151,594 C155,594 156,599 153,604 C150,608 146,611 141,613 C138,614 136,613 136,611 Z" fill="#050000" filter="url(#bl1)"/>
<ellipse cx="134.5" cy="611" rx="4.5" ry="3.2" fill="#d01c24" filter="url(#bl1)"/>
</g>
<g clip-path="url(#cp1)">
<ellipse cx="262" cy="641" rx="52" ry="57" transform="rotate(35 262 641)" fill="url(#g2)" filter="url(#bl3)"/>
<ellipse cx="262" cy="641" rx="52" ry="57" transform="rotate(35 262 641)" fill="url(#g2b)" filter="url(#bl1)"/>
</g>
<g clip-path="url(#cp4)">
<path d="M75.5,758 C76,740 82,727 90,722 C102,712 115,706 125,706 C140,706 155,712 165,719 C175,728 181.7,742 181.7,755 C181.7,780 160,797.6 131,797.6 C98,797.6 75.5,782 75.5,758 Z" fill="url(#g3)" filter="url(#bl3)"/>
</g>
<g clip-path="url(#cp5)">
<ellipse cx="197.5" cy="770" rx="3" ry="26" fill="#2a0304" filter="url(#bl1)"/>
<path d="M199.7,761 C200,738 220,718 248,716 C262,712 275,708 285,710 C300,720 311.6,738 311.6,755 C311.6,785 285,805.7 250,805.7 C220,805.7 199.7,785 199.7,761 Z" fill="url(#g4)" filter="url(#bl3)"/>
<path d="M199.7,761 C200,738 220,718 248,716 C262,712 275,708 285,710 C300,720 311.6,738 311.6,755 C311.6,785 285,805.7 250,805.7 C220,805.7 199.7,785 199.7,761 Z" fill="url(#g4b)" filter="url(#bl1)"/>
</g>
<g clip-path="url(#cp2)">
<ellipse cx="386" cy="629" rx="52" ry="49" fill="url(#g5)" filter="url(#bl3)"/>
<ellipse cx="360" cy="614" rx="34" ry="34" fill="url(#g5b)"/>
<path d="M357,612 C354,603 358,593 368,592 C378,592 382,600 381,608 C380,614 376,617 372,618" fill="none" stroke="#6a0a0e" stroke-width="3.2" filter="url(#bl1)" opacity="0.85"/>
<ellipse cx="375" cy="619" rx="10" ry="7" fill="#720c10" filter="url(#bl3)"/>
<ellipse cx="352" cy="622" rx="9" ry="8" fill="#4a070a" filter="url(#bl3)"/>
</g>
<g clip-path="url(#cp3)">
<ellipse cx="494" cy="698" rx="34" ry="14" fill="#200203" filter="url(#bl3)"/>
<path d="M459,623 C459,600 470,588 490,588 C503,588 512,597 519,600 C527,592 537,582 548,585 C560,590 567.6,605 567.6,623 C567.6,650 542,668 522,686 C502,668 459,650 459,623 Z" fill="url(#g6)" filter="url(#bl1)"/>
<path d="M498,594 C503,604 525,607 535,597 C530,590 505,588 498,594 Z" fill="#080000" filter="url(#bl1)"/>
</g>
<g clip-path="url(#cp6)">
<ellipse cx="327.5" cy="756" rx="3" ry="24" fill="#3e0508" filter="url(#bl1)"/>
<ellipse cx="386" cy="758" rx="55" ry="46" fill="url(#g7)" filter="url(#bl3)"/>
<ellipse cx="378" cy="752" rx="30" ry="11" transform="rotate(-18 378 752)" fill="#c2161d" opacity="0.8" filter="url(#bl6)"/>
</g>
<g clip-path="url(#cp7)">
<ellipse cx="510" cy="762" rx="54" ry="48" fill="url(#g8)" filter="url(#bl3)"/>
<path d="M492,744 C498,740 505,745 512,741 C518,738 524,744 532,742" stroke="#160102" stroke-width="3.5" fill="none" filter="url(#bl3)"/>
</g>
<g opacity="0.5">
<rect x="69.75" y="570.2" width="122.15" height="121.6" fill="#000" filter="url(#spk)"/>
<rect x="195.0" y="570.2" width="121.5" height="121.6" fill="#000" filter="url(#spk)"/>
<rect x="325.55" y="570.2" width="121.7" height="121.6" fill="#000" filter="url(#spk)"/>
<rect x="451.4" y="570.2" width="121.8" height="121.6" fill="#000" filter="url(#spk)"/>
<rect x="69.75" y="695.1" width="122.15" height="121.4" fill="#000" filter="url(#spk)"/>
<rect x="195.0" y="695.1" width="121.5" height="121.4" fill="#000" filter="url(#spk)"/>
<rect x="325.55" y="695.1" width="121.7" height="121.4" fill="#000" filter="url(#spk)"/>
<rect x="451.4" y="695.1" width="121.8" height="121.4" fill="#000" filter="url(#spk)"/>
</g>
<path d="M127.30,576.60 L127.30,586.00 M131.37,578.95 L123.23,583.65 M131.37,583.65 L123.23,578.95 " stroke="#fff" stroke-width="2.3" fill="none"/>
<path d="M128.30,687.60 L131.90,681.30 L135.50,687.60" stroke="#fff" stroke-width="2.3" fill="none" stroke-linejoin="miter" transform="rotate(0 131.9 681.3)"/>
<path d="M223.10,576.60 L223.10,586.00 M227.17,578.95 L219.03,583.65 M227.17,583.65 L219.03,578.95 " stroke="#fff" stroke-width="2.3" fill="none"/>
<path d="M280.00,687.10 L283.60,680.80 L287.20,687.10" stroke="#fff" stroke-width="2.3" fill="none" stroke-linejoin="miter" transform="rotate(-30 283.6 680.8)"/>
<path d="M354.20,577.30 L354.20,586.70 M358.27,579.65 L350.13,584.35 M358.27,584.35 L350.13,579.65 " stroke="#fff" stroke-width="2.3" fill="none"/>
<path d="M409.40,678.60 L413.00,672.30 L416.60,678.60" stroke="#fff" stroke-width="2.3" fill="none" stroke-linejoin="miter" transform="rotate(-30 413.0 672.3)"/>
<path d="M512.10,571.70 L512.10,581.10 M516.17,574.05 L508.03,578.75 M516.17,578.75 L508.03,574.05 " stroke="#fff" stroke-width="2.3" fill="none"/>
<path d="M520.05,690.30 L523.80,683.80 L527.55,690.30" stroke="#fff" stroke-width="2.3" fill="none" stroke-linejoin="miter" transform="rotate(0 523.8 683.8)"/>
<path d="M126.20,695.70 L126.20,705.10 M130.27,698.05 L122.13,702.75 M130.27,702.75 L122.13,698.05 " stroke="#fff" stroke-width="2.3" fill="none"/>
<path d="M133.30,807.10 L136.90,800.80 L140.50,807.10" stroke="#fff" stroke-width="2.3" fill="none" stroke-linejoin="miter" transform="rotate(0 136.9 800.8)"/>
<path d="M243.80,705.90 L243.80,715.30 M247.87,708.25 L239.73,712.95 M247.87,712.95 L239.73,708.25 " stroke="#fff" stroke-width="2.3" fill="none"/>
<path d="M266.50,812.60 L270.10,806.30 L273.70,812.60" stroke="#fff" stroke-width="2.3" fill="none" stroke-linejoin="miter" transform="rotate(-15 270.1 806.3)"/>
<path d="M366.20,704.60 L366.20,714.00 M370.27,706.95 L362.13,711.65 M370.27,711.65 L362.13,706.95 " stroke="#fff" stroke-width="2.3" fill="none"/>
<path d="M405.20,815.70 L408.80,809.40 L412.40,815.70" stroke="#fff" stroke-width="2.3" fill="none" stroke-linejoin="miter" transform="rotate(-25 408.8 809.4)"/>
<path d="M508.00,695.70 L508.00,705.10 M512.07,698.05 L503.93,702.75 M512.07,702.75 L503.93,698.05 " stroke="#fff" stroke-width="2.3" fill="none"/>
<path d="M510.90,817.30 L514.50,811.00 L518.10,817.30" stroke="#fff" stroke-width="2.3" fill="none" stroke-linejoin="miter" transform="rotate(-20 514.5 811.0)"/>
<line x1="174.6" y1="681.4" x2="184.2" y2="681.4" stroke="#fff" stroke-width="1.6"/>
<text x="165.29999999999998" y="689.9" font-size="6.6" font-weight="normal" fill="#fff">100 &#956;m</text>
<line x1="302.4" y1="681.4" x2="312" y2="681.4" stroke="#fff" stroke-width="1.6"/>
<text x="293.1" y="689.9" font-size="6.6" font-weight="normal" fill="#fff">100 &#956;m</text>
<line x1="432.0" y1="681.4" x2="441.6" y2="681.4" stroke="#fff" stroke-width="1.6"/>
<text x="422.70000000000005" y="689.9" font-size="6.6" font-weight="normal" fill="#fff">100 &#956;m</text>
<line x1="556.1" y1="681.4" x2="565.7" y2="681.4" stroke="#fff" stroke-width="1.6"/>
<text x="546.8000000000001" y="689.9" font-size="6.6" font-weight="normal" fill="#fff">100 &#956;m</text>
<line x1="174.6" y1="805" x2="184.2" y2="805" stroke="#fff" stroke-width="1.6"/>
<text x="165.29999999999998" y="813.5" font-size="6.6" font-weight="normal" fill="#fff">100 &#956;m</text>
<line x1="302.4" y1="805" x2="312" y2="805" stroke="#fff" stroke-width="1.6"/>
<text x="293.1" y="813.5" font-size="6.6" font-weight="normal" fill="#fff">100 &#956;m</text>
<line x1="432.0" y1="805" x2="441.6" y2="805" stroke="#fff" stroke-width="1.6"/>
<text x="422.70000000000005" y="813.5" font-size="6.6" font-weight="normal" fill="#fff">100 &#956;m</text>
<line x1="556.1" y1="805" x2="565.7" y2="805" stroke="#fff" stroke-width="1.6"/>
<text x="546.8000000000001" y="813.5" font-size="6.6" font-weight="normal" fill="#fff">100 &#956;m</text>
<text x="604.60" y="526.40" font-size="13.5" font-weight="bold"  text-anchor="start" fill="#000" stroke="#000" stroke-width="0.15" >D</text>
<ellipse cx="684" cy="580.2" rx="58.2" ry="50.6" fill="none" stroke="#000" stroke-width="2.6"/>
<ellipse cx="683.8" cy="549.1" rx="13.1" ry="7.5" fill="none" stroke="#000" stroke-width="2.4"/>
<path d="M647.8,550.3 L654.3,550.4 C655.8,550.5 656.5999999999999,551.5999999999999 658.0,551.1999999999999 C659.0,550.9 659.5999999999999,550.0999999999999 660.1999999999999,549.9" stroke="#3b3bdc" stroke-width="1.15" fill="none"/>
<circle cx="647.8" cy="550.3" r="1.45" fill="#000"/>
<path d="M704.1,550.3 L710.6,550.4 C712.1,550.5 712.9,551.5999999999999 714.3000000000001,551.1999999999999 C715.3000000000001,550.9 715.9,550.0999999999999 716.5,549.9" stroke="#3b3bdc" stroke-width="1.15" fill="none"/>
<circle cx="704.1" cy="550.3" r="1.45" fill="#000"/>
<path d="M650.7,562.5 L657.2,562.6 C658.7,562.7 659.5,563.8 660.9000000000001,563.4 C661.9000000000001,563.1 662.5,562.3 663.1,562.1" stroke="#3b3bdc" stroke-width="1.15" fill="none"/>
<circle cx="650.7" cy="562.5" r="1.45" fill="#000"/>
<path d="M677.5,563.5 L684.0,563.6 C685.5,563.7 686.3,564.8 687.7,564.4 C688.7,564.1 689.3,563.3 689.9,563.1" stroke="#3b3bdc" stroke-width="1.15" fill="none"/>
<circle cx="677.5" cy="563.5" r="1.45" fill="#000"/>
<path d="M707.5,564.6 L714.0,564.7 C715.5,564.8000000000001 716.3,565.9 717.7,565.5 C718.7,565.2 719.3,564.4 719.9,564.2" stroke="#3b3bdc" stroke-width="1.15" fill="none"/>
<circle cx="707.5" cy="564.6" r="1.45" fill="#000"/>
<path d="M642.5,594.5 L649.0,594.6 C650.5,594.7 651.3,595.8 652.7,595.4 C653.7,595.1 654.3,594.3 654.9,594.1" stroke="#3b3bdc" stroke-width="1.15" fill="none"/>
<circle cx="642.5" cy="594.5" r="1.45" fill="#000"/>
<path d="M712,596.6 L718.5,596.7 C720,596.8000000000001 720.8,597.9 722.2,597.5 C723.2,597.2 723.8,596.4 724.4,596.2" stroke="#3b3bdc" stroke-width="1.15" fill="none"/>
<circle cx="712" cy="596.6" r="1.45" fill="#000"/>
<path d="M667,610.2 L673.5,610.3000000000001 C675,610.4000000000001 675.8,611.5 677.2,611.1 C678.2,610.8000000000001 678.8,610.0 679.4,609.8000000000001" stroke="#3b3bdc" stroke-width="1.15" fill="none"/>
<circle cx="667" cy="610.2" r="1.45" fill="#000"/>
<path d="M677.1,573 L683.6,573.1 C685.1,573.2 685.9,574.3 687.3000000000001,573.9 C688.3000000000001,573.6 688.9,572.8 689.5,572.6" stroke="#cc2a2a" stroke-width="1.15" fill="none"/>
<circle cx="677.1" cy="573" r="1.45" fill="#000"/>
<path d="M658.2,587.2 L664.7,587.3000000000001 C666.2,587.4000000000001 667.0,588.5 668.4000000000001,588.1 C669.4000000000001,587.8000000000001 670.0,587.0 670.6,586.8000000000001" stroke="#cc2a2a" stroke-width="1.15" fill="none"/>
<circle cx="658.2" cy="587.2" r="1.45" fill="#000"/>
<path d="M696.8,588.7 L703.3,588.8000000000001 C704.8,588.9000000000001 705.5999999999999,590.0 707.0,589.6 C708.0,589.3000000000001 708.5999999999999,588.5 709.1999999999999,588.3000000000001" stroke="#cc2a2a" stroke-width="1.15" fill="none"/>
<circle cx="696.8" cy="588.7" r="1.45" fill="#000"/>
<path d="M692.2,604.4 L698.7,604.5 C700.2,604.6 701.0,605.6999999999999 702.4000000000001,605.3 C703.4000000000001,605.0 704.0,604.1999999999999 704.6,604.0" stroke="#cc2a2a" stroke-width="1.15" fill="none"/>
<circle cx="692.2" cy="604.4" r="1.45" fill="#000"/>
<path d="M654.5,621.5 L661.0,621.6 C662.5,621.7 663.3,622.8 664.7,622.4 C665.7,622.1 666.3,621.3 666.9,621.1" stroke="#cc2a2a" stroke-width="1.15" fill="none"/>
<circle cx="654.5" cy="621.5" r="1.45" fill="#000"/>
<path d="M696.8,622.6 L703.3,622.7 C704.8,622.8000000000001 705.5999999999999,623.9 707.0,623.5 C708.0,623.2 708.5999999999999,622.4 709.1999999999999,622.2" stroke="#cc2a2a" stroke-width="1.15" fill="none"/>
<circle cx="696.8" cy="622.6" r="1.45" fill="#000"/>
<path d="M666,625.7 L672.5,625.8000000000001 C674,625.9000000000001 674.8,627.0 676.2,626.6 C677.2,626.3000000000001 677.8,625.5 678.4,625.3000000000001" stroke="#cc2a2a" stroke-width="1.15" fill="none"/>
<circle cx="666" cy="625.7" r="1.45" fill="#000"/>
<path d="M690,626.4 L696.5,626.5 C698,626.6 698.8,627.6999999999999 700.2,627.3 C701.2,627.0 701.8,626.1999999999999 702.4,626.0" stroke="#cc2a2a" stroke-width="1.15" fill="none"/>
<circle cx="690" cy="626.4" r="1.45" fill="#000"/>
<path d="M677.1,628.5 L683.6,628.6 C685.1,628.7 685.9,629.8 687.3000000000001,629.4 C688.3000000000001,629.1 688.9,628.3 689.5,628.1" stroke="#cc2a2a" stroke-width="1.15" fill="none"/>
<circle cx="677.1" cy="628.5" r="1.45" fill="#000"/>
<line x1="684" y1="638.5" x2="684" y2="657" stroke="#000" stroke-width="2.6"/>
<path d="M678.3,655.8 L689.5,655.8 L684,672.6 Z" fill="#000"/>
<ellipse cx="684" cy="727" rx="58.2" ry="50.6" fill="none" stroke="#000" stroke-width="2.6"/>
<path d="M647.8,697.3 L654.3,697.4 C655.8,697.5 656.5999999999999,698.5999999999999 658.0,698.1999999999999 C659.0,697.9 659.5999999999999,697.0999999999999 660.1999999999999,696.9" stroke="#3b3bdc" stroke-width="1.15" fill="none"/>
<circle cx="647.8" cy="697.3" r="1.45" fill="#000"/>
<path d="M672.7,697.3 L679.2,697.4 C680.7,697.5 681.5,698.5999999999999 682.9000000000001,698.1999999999999 C683.9000000000001,697.9 684.5,697.0999999999999 685.1,696.9" stroke="#3b3bdc" stroke-width="1.15" fill="none"/>
<circle cx="672.7" cy="697.3" r="1.45" fill="#000"/>
<path d="M704.1,697.3 L710.6,697.4 C712.1,697.5 712.9,698.5999999999999 714.3000000000001,698.1999999999999 C715.3000000000001,697.9 715.9,697.0999999999999 716.5,696.9" stroke="#3b3bdc" stroke-width="1.15" fill="none"/>
<circle cx="704.1" cy="697.3" r="1.45" fill="#000"/>
<path d="M693.2,703.6 L699.7,703.7 C701.2,703.8000000000001 702.0,704.9 703.4000000000001,704.5 C704.4000000000001,704.2 705.0,703.4 705.6,703.2" stroke="#3b3bdc" stroke-width="1.15" fill="none"/>
<circle cx="693.2" cy="703.6" r="1.45" fill="#000"/>
<path d="M650.7,709.4 L657.2,709.5 C658.7,709.6 659.5,710.6999999999999 660.9000000000001,710.3 C661.9000000000001,710.0 662.5,709.1999999999999 663.1,709.0" stroke="#3b3bdc" stroke-width="1.15" fill="none"/>
<circle cx="650.7" cy="709.4" r="1.45" fill="#000"/>
<path d="M677.5,710.5 L684.0,710.6 C685.5,710.7 686.3,711.8 687.7,711.4 C688.7,711.1 689.3,710.3 689.9,710.1" stroke="#3b3bdc" stroke-width="1.15" fill="none"/>
<circle cx="677.5" cy="710.5" r="1.45" fill="#000"/>
<path d="M707.5,711.3 L714.0,711.4 C715.5,711.5 716.3,712.5999999999999 717.7,712.1999999999999 C718.7,711.9 719.3,711.0999999999999 719.9,710.9" stroke="#3b3bdc" stroke-width="1.15" fill="none"/>
<circle cx="707.5" cy="711.3" r="1.45" fill="#000"/>
<path d="M677.9,720.7 L684.4,720.8000000000001 C685.9,720.9000000000001 686.6999999999999,722.0 688.1,721.6 C689.1,721.3000000000001 689.6999999999999,720.5 690.3,720.3000000000001" stroke="#3b3bdc" stroke-width="1.15" fill="none"/>
<circle cx="677.9" cy="720.7" r="1.45" fill="#000"/>
<path d="M653.4,760 L659.9,760.1 C661.4,760.2 662.1999999999999,761.3 663.6,760.9 C664.6,760.6 665.1999999999999,759.8 665.8,759.6" stroke="#cc2a2a" stroke-width="1.15" fill="none"/>
<circle cx="653.4" cy="760" r="1.45" fill="#000"/>
<path d="M675,760.5 L681.5,760.6 C683,760.7 683.8,761.8 685.2,761.4 C686.2,761.1 686.8,760.3 687.4,760.1" stroke="#cc2a2a" stroke-width="1.15" fill="none"/>
<circle cx="675" cy="760.5" r="1.45" fill="#000"/>
<path d="M703,759.5 L709.5,759.6 C711,759.7 711.8,760.8 713.2,760.4 C714.2,760.1 714.8,759.3 715.4,759.1" stroke="#cc2a2a" stroke-width="1.15" fill="none"/>
<circle cx="703" cy="759.5" r="1.45" fill="#000"/>
<path d="M654,767.2 L660.5,767.3000000000001 C662,767.4000000000001 662.8,768.5 664.2,768.1 C665.2,767.8000000000001 665.8,767.0 666.4,766.8000000000001" stroke="#cc2a2a" stroke-width="1.15" fill="none"/>
<circle cx="654" cy="767.2" r="1.45" fill="#000"/>
<path d="M696.8,768.5 L703.3,768.6 C704.8,768.7 705.5999999999999,769.8 707.0,769.4 C708.0,769.1 708.5999999999999,768.3 709.1999999999999,768.1" stroke="#cc2a2a" stroke-width="1.15" fill="none"/>
<circle cx="696.8" cy="768.5" r="1.45" fill="#000"/>
<path d="M666,771 L672.5,771.1 C674,771.2 674.8,772.3 676.2,771.9 C677.2,771.6 677.8,770.8 678.4,770.6" stroke="#cc2a2a" stroke-width="1.15" fill="none"/>
<circle cx="666" cy="771" r="1.45" fill="#000"/>
<path d="M690,772.5 L696.5,772.6 C698,772.7 698.8,773.8 700.2,773.4 C701.2,773.1 701.8,772.3 702.4,772.1" stroke="#cc2a2a" stroke-width="1.15" fill="none"/>
<circle cx="690" cy="772.5" r="1.45" fill="#000"/>
<path d="M677.1,774.2 L683.6,774.3000000000001 C685.1,774.4000000000001 685.9,775.5 687.3000000000001,775.1 C688.3000000000001,774.8000000000001 688.9,774.0 689.5,773.8000000000001" stroke="#cc2a2a" stroke-width="1.15" fill="none"/>
<circle cx="677.1" cy="774.2" r="1.45" fill="#000"/>
<path d="M641.3,797.6 L647.8,797.7 C649.3,797.8000000000001 650.0999999999999,798.9 651.5,798.5 C652.5,798.2 653.0999999999999,797.4 653.6999999999999,797.2" stroke="#3b3bdc" stroke-width="1.15" fill="none"/>
<circle cx="641.3" cy="797.6" r="1.45" fill="#000"/>
<path d="M719.8,797.6 L726.3,797.7 C727.8,797.8000000000001 728.5999999999999,798.9 730.0,798.5 C731.0,798.2 731.5999999999999,797.4 732.1999999999999,797.2" stroke="#cc2a2a" stroke-width="1.15" fill="none"/>
<circle cx="719.8" cy="797.6" r="1.45" fill="#000"/>
<text x="614.20" y="812.90" font-size="11" font-weight="bold"  text-anchor="start" fill="#000" stroke="#000" stroke-width="0.15" >Animal RNA</text>
<text x="692.20" y="812.90" font-size="11" font-weight="bold"  text-anchor="start" fill="#000" stroke="#000" stroke-width="0.15" >Vegetal RNA</text>
</svg></body></html>
